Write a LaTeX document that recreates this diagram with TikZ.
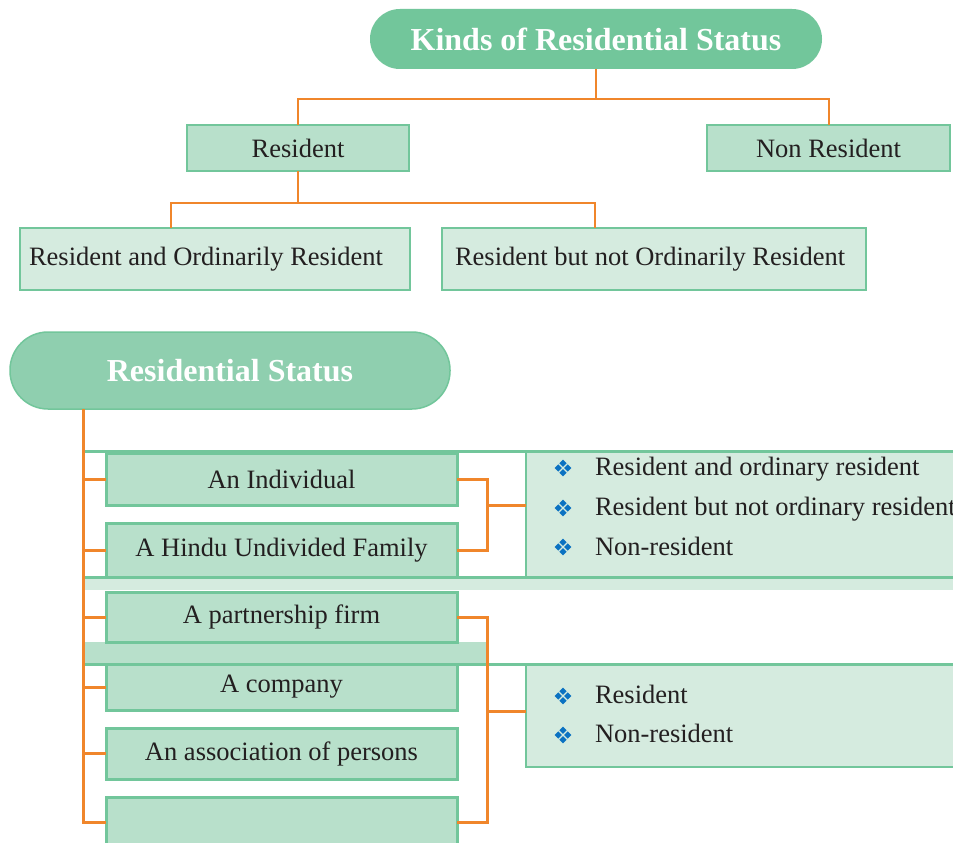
\documentclass[tikz,border=0pt]{standalone}
\usepackage{fontspec}
\setmainfont{Liberation Serif}
\usetikzlibrary{calc}

\definecolor{pillgreen}{HTML}{72C69B}
\definecolor{pilllight}{HTML}{8FCFAF}
\definecolor{boxmid}{HTML}{B8E0CB}
\definecolor{boxlight}{HTML}{D5EBDF}
\definecolor{edgegreen}{HTML}{72C69B}
\definecolor{linkorange}{HTML}{F0862B}
\definecolor{bulletblue}{HTML}{0B72C2}
\definecolor{ink}{HTML}{231F20}

\tikzset{
  diamondmark/.pic={
    \foreach \r in {0,90,180,270}{
      \fill[bulletblue, rotate=\r] (0,1.1) -- (3.6,4.7) -- (0,8.3) -- (-3.6,4.7) -- cycle;
    }
  }
}

\begin{document}
\begin{tikzpicture}[x=1pt,y=-1pt,
  every node/.style={inner sep=0pt, outer sep=0pt, text=ink,
    font=\fontsize{26.5}{30}\selectfont},
  pill/.style={fill=pillgreen, text=white, anchor=north west,
    font=\fontsize{32}{36}\selectfont\bfseries},
  midbox/.style={draw=edgegreen, line width=2.8pt, fill=boxmid, anchor=north west},
  lightbox/.style={draw=edgegreen, line width=2.8pt, fill=boxlight, anchor=north west},
  personbox/.style={midbox, line width=3pt, minimum width=351pt},
  bandline/.style={draw=edgegreen, line width=3pt},
  conn/.style={draw=linkorange, line width=3pt},
  thinconn/.style={draw=linkorange, line width=2pt},
  itemtext/.style={anchor=base west},
]
\useasboundingbox (0,0) rectangle (953,843);
\clip (0,0) rectangle (953,843);
\fill[white] (0,0) rectangle (953,843);

% ---------- kinds of residential status ----------
\node[pill, rounded corners=29.9pt, minimum width=452pt, minimum height=60pt]
  (title) at (370,9) {Kinds of Residential Status};

\node[midbox, minimum width=222pt, minimum height=46pt] (res) at (187,125) {Resident};
\node[midbox, minimum width=243pt, minimum height=46pt] (nonres) at (707,125) {Non Resident};

\node[lightbox, minimum height=62pt, inner xsep=9pt, text width=372pt, align=flush left]
  (ror) at (20,228) {Resident and Ordinarily Resident};
\node[lightbox, minimum height=62pt, inner xsep=13pt, text width=398pt, align=flush left]
  (rnor) at (442,228) {Resident but not Ordinarily Resident};

\draw[thinconn] (title.south) -- ++(0,30) coordinate (j1);
\draw[thinconn] (res.north) |- (j1) -| (nonres.north);
\draw[thinconn] (res.south) -- ++(0,32) coordinate (j2);
\coordinate (d1) at (171,228);
\coordinate (d2) at (595,228);
\draw[thinconn] (d1) |- (j2) -| (d2);

% ---------- residential status by kind of person ----------
\node[pill, fill=pilllight, draw=edgegreen, line width=1.5pt, rounded corners=38pt,
  minimum width=440pt, minimum height=77pt] (rs) at (10,332) {Residential Status};

% background bands
\fill[boxlight] (85,577) rectangle (970,590);
\fill[boxmid] (85,642) rectangle (487,664);

% the two outcome panels
\node[lightbox, minimum width=440pt, minimum height=126pt] (rb1) at (526,451) {};
\node[lightbox, minimum width=440pt, minimum height=102pt] (rb2) at (526,665) {};

% kinds of person
\node[personbox, minimum height=52pt] (b1) at (106,453) {An Individual};
\node[personbox, minimum height=54pt] (b2) at (106,523) {A Hindu Undivided Family};
\node[personbox, minimum height=50pt] (b3) at (106,592) {A partnership firm};
\node[personbox, minimum height=46pt] (b4) at (106,664) {A company};
\node[personbox, minimum height=51pt] (b5) at (106,728) {An association of persons};
\node[personbox, minimum height=50pt] (b6) at (106,797) {};

% band rules
\draw[bandline] (84,451) -- (970,451);
\draw[bandline] (84,577) -- (970,577);
\draw[bandline] (84,664) -- (970,664);

% outcome lists
\pic at (563,468) {diamondmark};
\pic at (563,508) {diamondmark};
\pic at (563,547) {diamondmark};
\node[itemtext] (o1) at (595,475) {Resident and ordinary resident};
\node[itemtext] (o2) at (595,515) {Resident but not ordinary resident};
\node[itemtext] (o3) at (595,555) {Non-resident};

\pic at (563,696) {diamondmark};
\pic at (563,735) {diamondmark};
\node[itemtext] (p1) at (595,703) {Resident};
\node[itemtext] (p2) at (595,742) {Non-resident};

% connectors
\coordinate (sp) at ($(rs.south west)+(73,0)$);
\draw[conn] (sp) |- (b6.west);
\foreach \b in {b1,b2,b3,b4,b5}{
  \draw[conn] (\b.west) -- (\b.west -| sp);
}
\draw[conn] (b1.east) -- ++(30,0) |- (b2.east);
\coordinate (m1) at (487,505);
\draw[conn] (m1) -- (m1 -| rb1.west);
\draw[conn] (b3.east) -- ++(30,0) |- (b6.east);
\coordinate (m2) at (487,711);
\draw[conn] (m2) -- (m2 -| rb2.west);
\end{tikzpicture}
\end{document}
